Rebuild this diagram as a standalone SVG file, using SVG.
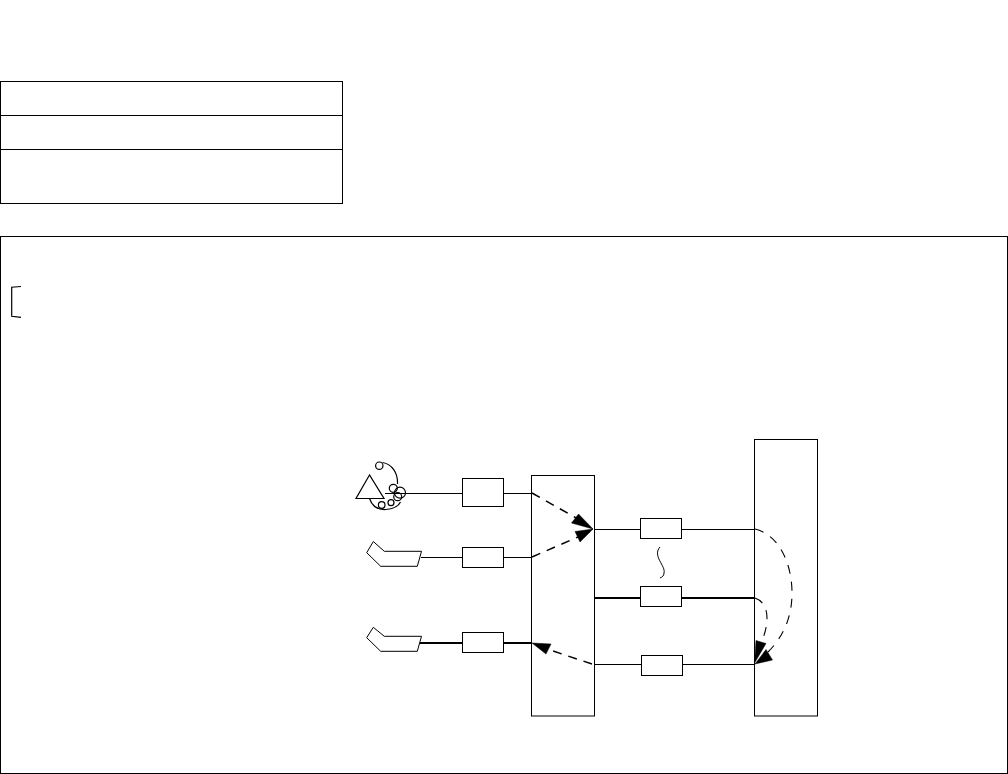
<svg xmlns="http://www.w3.org/2000/svg" width="1008" height="774" viewBox="0 0 1008 774">
<style>
.b{fill:#fff;stroke:#000;stroke-width:1}
.n{fill:none;stroke:#000;stroke-width:1}
.k{fill:none;stroke:#000;stroke-width:1.2}
.t{fill:none;stroke:#000;stroke-width:2}
.d{fill:none;stroke:#000;stroke-width:1.5;stroke-dasharray:9 7}
.c{fill:none;stroke:#000;stroke-width:1.1;stroke-dasharray:9 8}
.h{fill:#000;stroke:#000;stroke-width:.5}
</style>
<rect width="1008" height="774" fill="#fff"/>
<g id="table">
<rect class="n" x="0.5" y="81.5" width="342" height="122"/>
<path class="n" d="M0 115.5H342M0 149.5H342"/>
</g>
<g id="frame"><rect class="n" x="0.5" y="236.5" width="1007" height="537"/></g>
<g id="bracket"><path class="k" d="M21 286.500L11.700 287.200V316.300L21 317.300"/></g>
<g id="connectors">
<path class="n" d="M385 493.500H462M503 493.500H531M421 557.500H462M503 557.500H531M594 529.500H640M682 529.500H754M594 664.500H641M683 664.500H754"/>
<path class="t" d="M420 643H462M503 643H532M594 598H640M682 598H755"/>
<path class="d" d="M532 493L578 519"/>
<path class="d" d="M532 557L578 537"/>
<path class="d" d="M592 664L550 650"/>
<path class="c" d="M755 529C780 535 792 565 792 593C792 615 785 635 768 652"/>
<path class="c" d="M755 598C764 601 767 610 767 618C767 628 764 636 761 643"/>
<path class="n" d="M660 547C652 556 666 566 664 573C664 576 662 577 660 578"/>
<polygon class="h" points="593,529 571.500,523 578.500,514"/>
<polygon class="h" points="593,529 575,531.500 580,542"/>
<polygon class="h" points="532,643 551,644 546,654"/>
<polygon class="h" points="754.500,663 756,640.500 766,643.500"/>
<polygon class="h" points="755,664 766,649.500 772.500,660"/>
</g>
<g id="antenna">
<polygon class="k" points="369.500,475 356,498.500 384,498.500"/>
<path class="k" d="M382.500 462.500C392 464 398 473 397.500 484M369.500 498.500C372 506 378 510 386 509.500C392 509 398 507 400.500 502"/>
<circle class="k" cx="379.300" cy="465.700" r="3.700"/>
<circle class="k" cx="393.300" cy="488.300" r="4"/>
<circle class="k" cx="400" cy="492.700" r="5.500"/>
<circle class="k" cx="397.700" cy="496.700" r="4"/>
<circle class="k" cx="391" cy="502.700" r="3"/>
<circle class="k" cx="381.700" cy="505" r="3.300"/>
</g>
<g id="dish1"><polygon class="n" points="373.300,541.500 366.700,552.700 380.700,566.300 417.300,566.300 421.500,551.300 384.300,551.300"/></g>
<g id="dish2"><polygon class="n" points="373.300,627.300 366.700,637.700 380.700,651.300 417.300,651.300 421.500,636.300 384.300,636.300"/></g>
<g id="box1"><rect class="b" x="462.500" y="478.500" width="41" height="28"/></g>
<g id="box2"><rect class="b" x="462.500" y="547.500" width="41" height="20"/></g>
<g id="box3"><rect class="b" x="462.500" y="632.500" width="41" height="20"/></g>
<g id="box4"><rect class="b" x="640.500" y="518.500" width="41" height="20"/></g>
<g id="box5"><rect class="b" x="640.500" y="586.500" width="41" height="20"/></g>
<g id="box6"><rect class="b" x="641.500" y="655.500" width="41" height="20"/></g>
<g id="midcol"><rect class="n" x="531.500" y="475.500" width="63" height="240.500"/></g>
<g id="rightcol"><rect class="n" x="754.500" y="439.500" width="63" height="276.500"/></g>
</svg>
